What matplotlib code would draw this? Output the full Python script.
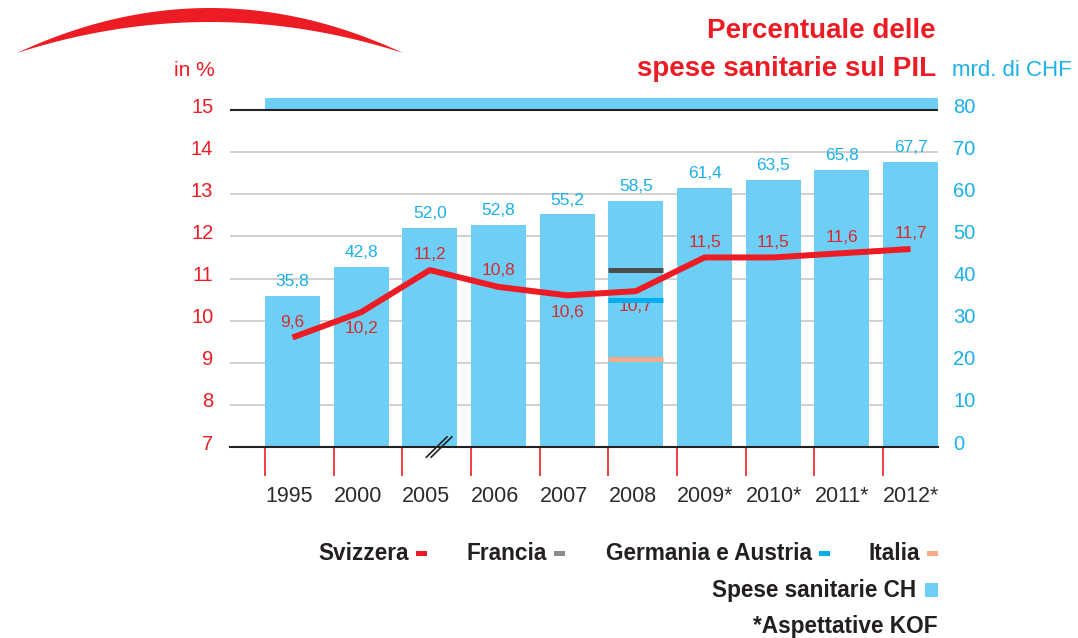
import numpy as np
import matplotlib.pyplot as plt
from matplotlib.patches import Rectangle, Polygon
from matplotlib.transforms import ScaledTranslation

plt.rcParams['font.family'] = ['Liberation Sans', 'DejaVu Sans']

# dati
anni = ['1995', '2000', '2005', '2006', '2007', '2008', '2009*', '2010*', '2011*', '2012*']
spese_chf = [35.8, 42.8, 52.0, 52.8, 55.2, 58.5, 61.4, 63.5, 65.8, 67.7]
pil_svizzera = [9.6, 10.2, 11.2, 10.8, 10.6, 10.7, 11.5, 11.5, 11.6, 11.7]
confronto_2008 = {'Francia': 11.2, 'Germania e Austria': 10.5, 'Italia': 9.1}

# colori
ROSSO = '#ed1c24'
ROSSO_ETI = '#d9282f'
BLU = '#6dcff6'
BLU_SCURO = '#1ab0ea'
TESTO = '#231f20'
col_paesi = {'Francia': '#4d4d4d', 'Germania e Austria': '#00aeef', 'Italia': '#f7a98b'}

W, H = 1078, 638
fig = plt.figure(figsize=(W / 100, H / 100), dpi=100)

def fx(x):
    return x / W

def fy(y):
    return 1 - y / H

ax = fig.add_axes([fx(230), fy(447), fx(938) - fx(230), fy(98) - fy(447)])
ax2 = ax.twinx()

x = np.arange(len(anni))
bw = 0.8

# barre spese sanitarie (asse CHF)
ax.bar(x, spese_chf, width=bw, color=BLU, zorder=2)
for xi, v in zip(x, spese_chf):
    ax.annotate(f'{v:.1f}'.replace('.', ','), (xi, v), xytext=(0, 5), textcoords='offset points',
                ha='center', va='bottom', color=BLU_SCURO, fontsize=12.5)

# fascia in alto
ax.fill_between([-0.4, 9.4], 80, 83, color=BLU, lw=0, zorder=2)

ax.set_ylim(0, 82.85)
ax.set_xlim(-0.91, 9.4)
for g in range(10, 80, 10):
    ax.axhline(g, color='#c8c8c8', lw=1.2, zorder=1)
ax.axhline(80, color='#222222', lw=1.5, zorder=3)

# linea svizzera (asse %)
ax2.set_ylim(7, 15.285)
ax2.plot(x, pil_svizzera, color=ROSSO, lw=4.3, solid_capstyle='butt', zorder=5)
offs = [11, -12, 11, 12, -12, -11, 11, 11, 11, 11]
for xi, v, o in zip(x, pil_svizzera, offs):
    ax2.annotate(f'{v:.1f}'.replace('.', ','), (xi, v), xytext=(0, o), textcoords='offset points',
                 ha='center', va='center', color=ROSSO_ETI, fontsize=12.5)

i08 = anni.index('2008')
for paese, v in confronto_2008.items():
    ax2.hlines(v, i08 - bw / 2, i08 + bw / 2, color=col_paesi[paese], lw=3.6, zorder=4)

# segno di interruzione
for d in (0, 0.07):
    ax2.plot([1.95 + d, 2.25 + d], [6.76, 7.24], color='#222222', lw=1.2, clip_on=False, zorder=6)

# assi
for s in ['top', 'left', 'right']:
    ax.spines[s].set_visible(False)
    ax2.spines[s].set_visible(False)
ax.spines['bottom'].set_color('#222222')
ax.spines['bottom'].set_linewidth(1.5)
ax2.spines['bottom'].set_visible(False)

ax.yaxis.tick_right()
ax2.yaxis.tick_left()
ax.set_yticks(range(0, 90, 10))
ax.tick_params(axis='y', length=0, pad=11, labelsize=14.5, labelcolor=BLU_SCURO)
ax2.set_yticks(range(7, 16))
ax2.tick_params(axis='y', length=0, pad=12, labelsize=14.5, labelcolor=ROSSO)

# etichette y leggermente sopra le linee
su = ScaledTranslation(0, 0.05, fig.dpi_scale_trans)
for lab in ax.get_yticklabels() + ax2.get_yticklabels():
    lab.set_transform(lab.get_transform() + su)

ax.set_xticks(x - bw / 2)
ax.set_xticklabels(anni, ha='left')
ax.tick_params(axis='x', length=21, width=1.2, color=ROSSO, direction='out',
               pad=7, labelsize=15.5, labelcolor='#2b2b2b')

# titoli
fig.text(fx(936), fy(31), 'Percentuale delle', ha='right', va='center', color=ROSSO,
         fontsize=20, fontweight='bold')
fig.text(fx(936), fy(69), 'spese sanitarie sul PIL', ha='right', va='center', color=ROSSO,
         fontsize=20, fontweight='bold')
fig.text(fx(215), fy(70), 'in %', ha='right', va='center', color=ROSSO, fontsize=15)
fig.text(fx(952), fy(70), 'mrd. di CHF', ha='left', va='center', color=BLU_SCURO, fontsize=16)

# arco decorativo
xs = np.linspace(18, 403, 120)
t = (xs - 210) / 193
top = 8 + 45 * t ** 2
bot = 22 + 31 * t ** 2
pts = [(fx(a), fy(b)) for a, b in zip(xs, top)] + [(fx(a), fy(b)) for a, b in zip(xs[::-1], bot[::-1])]
fig.patches.append(Polygon(pts, closed=True, transform=fig.transFigure, color=ROSSO, lw=0))

# legenda
leg1 = [('Svizzera', ROSSO, 427), ('Francia', '#8c8c8c', 565),
        ('Germania e Austria', '#00aeef', 830), ('Italia', '#f7a98b', 938)]
for nome, c, xr in leg1:
    fig.patches.append(Rectangle((fx(xr - 11), fy(556)), fx(11), 5 / H, transform=fig.transFigure,
                                 color=c, lw=0))
    fig.text(fx(xr - 18), fy(553), nome, ha='right', va='center', color=TESTO,
             fontsize=16.3, fontweight='bold')
fig.patches.append(Rectangle((fx(925), fy(597)), fx(13), 14 / H, transform=fig.transFigure,
                             color=BLU, lw=0))
fig.text(fx(916), fy(590), 'Spese sanitarie CH', ha='right', va='center', color=TESTO,
         fontsize=16.3, fontweight='bold')
fig.text(fx(938), fy(627), '*Aspettative KOF', ha='right', va='center', color=TESTO,
         fontsize=16.3, fontweight='bold')

fig.savefig('out.png', dpi=100)
